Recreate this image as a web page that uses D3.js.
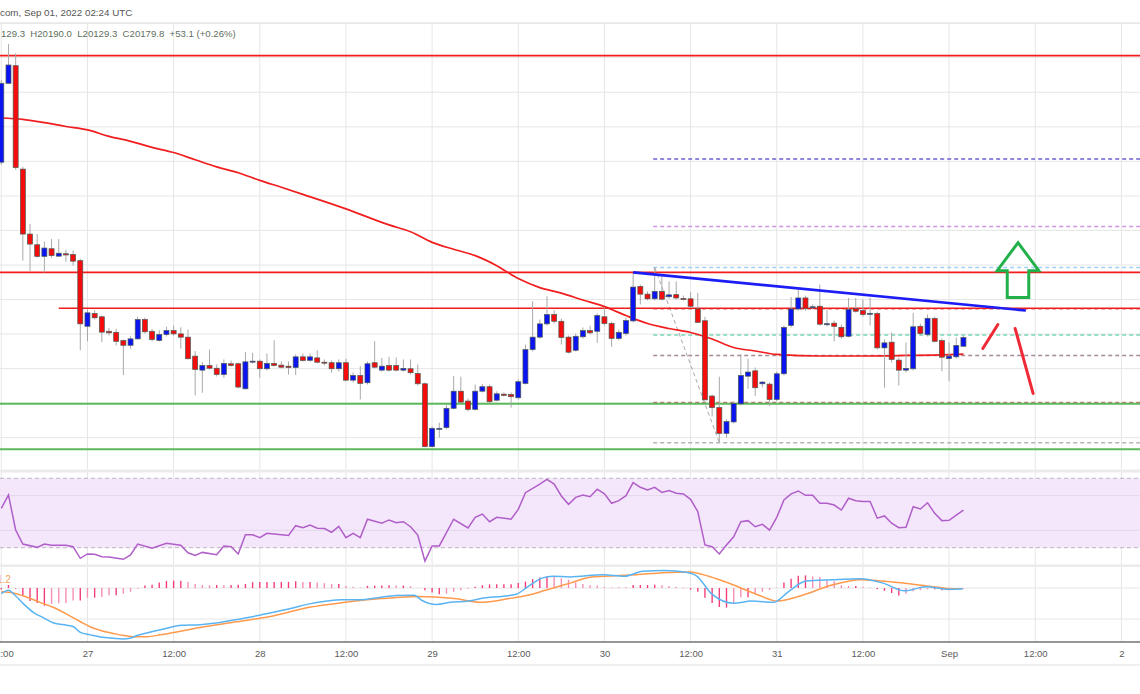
<!DOCTYPE html>
<html>
<head>
<meta charset="utf-8">
<script src="https://cdn.jsdelivr.net/npm/d3@7"></script>
<style>
  body { margin: 0; background: #fff; }
  svg { display: block; font-family: "Liberation Sans", Arial, sans-serif; }
</style>
</head>
<body>
<svg id="chart" width="1140" height="694"></svg>
<script>
"use strict";

// hourly candles from Aug 26 12:00 UTC: [open, high, low, close]
const ohlc = [
  [21195,21671,21180,21652],[21652,21879,21650,21758],[21754,21825,21151,21164],[21155,21168,20625,20779],
  [20779,20837,20563,20721],[20717,20779,20642,20650],[20650,20736,20556,20698],[20694,20750,20642,20654],
  [20651,20750,20648,20668],[20665,20688,20619,20658],[20660,20683,20596,20622],[20625,20636,20106,20259],
  [20245,20342,20158,20323],[20319,20338,20284,20294],[20300,20307,20153,20211],[20216,20236,20191,20207],
  [20210,20230,20134,20158],[20162,20168,19962,20135],[20135,20187,20115,20172],[20172,20300,20168,20284],
  [20284,20295,20203,20213],[20216,20230,20157,20168],[20163,20222,20157,20197],[20197,20242,20186,20220],
  [20220,20249,20191,20201],[20201,20239,20115,20182],[20182,20226,20053,20057],[20072,20101,19845,19995],
  [19991,20037,19860,20018],[20018,20110,19995,20002],[20002,20024,19954,19966],[19966,20053,19947,20030],
  [20028,20047,20012,20018],[20028,20035,19885,19893],[19883,20095,19879,20039],[20039,20091,20030,20043],
  [20043,20053,19947,19999],[19999,20087,19989,20030],[20030,20164,20012,20018],[20020,20041,20001,20008],
  [20014,20041,19966,20006],[20006,20082,19962,20068],[20068,20087,20041,20047],[20048,20087,20041,20068],
  [20062,20106,20030,20037],[20037,20053,20018,20032],[20034,20047,19976,19999],[19999,20053,19983,20034],
  [20034,20057,19925,19933],[19933,19978,19920,19960],[19960,20014,19821,19914],[19918,20041,19908,20028],
  [20034,20159,20001,20008],[19991,20062,19983,20014],[20018,20068,19983,19991],[20018,20064,19983,19991],
  [19991,20053,19983,20001],[19999,20053,19966,19976],[19972,20024,19902,19912],[19912,19920,19544,19548],
  [19548,19665,19544,19654],[19649,19687,19600,19654],[19658,19793,19648,19770],[19770,19956,19764,19869],
  [19869,19953,19798,19806],[19812,19827,19752,19764],[19764,19908,19758,19869],[19869,19912,19862,19895],
  [19895,19908,19798,19808],[19817,19868,19810,19854],[19852,19862,19839,19845],[19850,19862,19774,19837],
  [19831,19937,19821,19924],[19914,20139,19908,20110],[20110,20390,20099,20182],[20182,20284,20174,20259],
  [20259,20419,20249,20313],[20313,20338,20261,20274],[20274,20290,20139,20180],[20182,20191,20087,20095],
  [20106,20203,20099,20187],[20184,20238,20174,20220],[20220,20249,20197,20207],[20216,20319,20149,20307],
  [20300,20353,20249,20261],[20261,20272,20126,20174],[20174,20226,20163,20210],[20203,20295,20191,20278],
  [20276,20554,20267,20472],[20476,20486,20371,20431],[20431,20446,20394,20404],[20404,20587,20394,20447],
  [20447,20538,20394,20402],[20416,20505,20405,20427],[20428,20505,20399,20409],[20406,20423,20394,20401],
  [20404,20442,20353,20361],[20346,20438,20267,20268],[20277,20300,19816,19819],[19841,19850,19723,19774],
  [19774,19953,19573,19625],[19625,19706,19600,19693],[19691,19810,19683,19797],[19796,20082,19787,19960],
  [19956,20057,19883,19980],[19987,20006,19841,19889],[19912,19926,19891,19922],[19910,19920,19783,19821],
  [19821,19983,19810,19970],[19970,20249,19960,20238],[20250,20414,20238,20345],[20345,20457,20336,20409],
  [20409,20423,20336,20349],[20353,20371,20342,20358],[20361,20486,20249,20257],[20254,20342,20244,20260],
  [20263,20278,20158,20245],[20239,20255,20174,20184],[20187,20409,20180,20342],[20347,20409,20324,20332],
  [20336,20399,20301,20313],[20315,20411,20249,20320],[20319,20330,20110,20120],[20120,20168,19889,20149],
  [20153,20209,20035,20053],[20049,20064,19902,19991],[19991,20151,19978,20001],[19999,20323,19989,20242],
  [20245,20261,20191,20203],[20197,20313,20186,20291],[20290,20301,20151,20158],[20162,20174,19985,20066],
  [20058,20151,19927,20072],[20068,20180,20058,20134],[20129.3,20190,20129.3,20179.8]
];

// moving average: [hour, price]
const ema = [
  [0,21451],[3,21443],[6,21424],[9,21402],[12,21382],[15,21345],[18,21316],[21,21281],[24,21251],
  [27,21209],[30,21168],[33,21134],[36,21090],[39,21050],[42,21009],[48,20925],[54,20832],[57,20792],
  [60,20731],[63,20691],[66,20654],[69,20596],[72,20521],[75,20469],[78,20437],[81,20397],[84,20359],
  [87,20307],[90,20261],[93,20232],[96,20209],[99,20171],[102,20122],[105,20102],[108,20082],
  [114,20073],[120,20073],[126,20076],[132,20081],[134,20084]
];

// RSI: [hour, value]
const rsi = [
  [0,52.7],[1,60.4],[2,40.2],[3,32.1],[5,30.2],[6,32.1],[7,31.4],[9,31.4],[10,30.6],[11,23.9],[12,26.4],
  [13,26.2],[14,24.8],[15,24.6],[17,23.3],[18,25.8],[19,32.1],[21,29.7],[23,32.5],[25,31.4],[26,27.1],
  [27,25.6],[28,27.3],[30,26],[31,31],[32,30.6],[33,26.4],[34,37.5],[35,37.5],[36,35.8],[37,38.3],
  [40,37.1],[41,42.7],[42,41.5],[43,43.1],[44,41.2],[45,41],[46,38.9],[47,42.3],[48,35.8],[49,38.3],
  [50,35.8],[51,46.4],[53,44.1],[54,46],[55,44.4],[56,45],[57,42.1],[58,37.3],[59,22.3],[60,31],[61,31],
  [63,46.4],[65,41.4],[66,47.5],[67,49.4],[68,45],[69,47.5],[71,46.4],[72,52.1],[73,61.7],[75,66.7],
  [76,69.4],[77,66.7],[78,59.8],[79,55],[80,59],[81,60.4],[82,59.4],[83,63.7],[84,61],[85,55.6],[86,57.1],
  [87,60],[88,67.5],[89,64.8],[90,63.3],[91,64.8],[92,61.9],[93,62.9],[94,61.4],[95,61],[96,57.9],
  [97,50.8],[98,31.6],[99,30.6],[100,26.4],[101,31.6],[102,36.3],[103,45],[104,45.6],[105,42.1],
  [106,43.5],[107,40.2],[108,47.5],[109,57.5],[110,61],[111,62.7],[112,60.2],[113,60.2],[114,55.6],
  [115,55.6],[116,54.6],[117,51.7],[118,58.5],[119,57.1],[120,56.7],[121,56.7],[122,47],[123,48.3],
  [124,44.1],[125,41.5],[126,41.8],[127,53.6],[128,52.3],[129,55.9],[130,49.8],[131,45.6],[132,45.8],
  [133,48.8],[134,51.6]
];

// MACD line and signal line: [hour, value]
const macdLine = [
  [0,-18],[1,-7],[1.9,-23],[3.1,-51],[4.5,-79],[5.9,-96],[7.2,-112],[9.1,-120],[10,-124],[11,-143],
  [12.4,-151],[13.8,-158],[15.6,-162],[17,-164],[17.9,-162],[18.9,-153],[20.1,-146],[22.6,-132],
  [25.1,-120],[27.7,-118],[30.2,-112],[32.2,-104],[34.8,-93],[37.3,-81],[40.3,-66],[42.9,-51],
  [45.4,-42],[47.4,-38],[50,-38],[52.5,-31],[55,-24],[57.5,-23],[58.6,-40],[60.6,-53],[62.6,-46],
  [65.1,-42],[67.2,-32],[69.7,-27],[71.7,-20],[73.3,4],[75.3,32],[76.8,38],[79.2,36],[83.8,43],
  [86.8,38],[89.3,54],[92.4,57],[95.4,51],[96.9,38],[98.9,-18],[102,-49],[104.5,-42],[107.6,-46],
  [109.6,-12],[112.1,23],[115.7,27],[119.7,30],[122.8,16],[125.8,-9],[128.8,4],[131.9,-4],[133.9,-2]
];
const signalLine = [
  [0,-12],[1.7,-16],[3.5,-29],[5.4,-46],[7.2,-62],[9.1,-84],[10.9,-107],[12.8,-129],[14.7,-142],
  [16.5,-151],[18.4,-157],[20.3,-157],[22.4,-150],[27.7,-127],[32.7,-109],[37.8,-90],[42.9,-62],
  [47.9,-46],[53,-34],[58.1,-27],[63.1,-34],[66.7,-46],[70.7,-34],[73.3,-23],[75.8,-7],[79.2,16],
  [82.2,36],[86.8,41],[91.9,49],[95.9,52],[98.5,38],[102,10],[105.5,-23],[108.1,-42],[111.6,-23],
  [115.7,10],[119.7,27],[124.8,18],[128.8,7],[131.9,-1],[133.9,-2]
];
// histogram, one value per candle
const macdHist = [
  -5,10,-4,-23,-42,-48,-57,-51,-49,-48,-40,-40,-31,-31,-29,-23,-23,-18,-12,-2,8,11,18,23,24,24,20,13,
  10,9,10,9,10,11,13,19,20,20,20,20,20,22,20,20,18,16,13,13,7,4,2,7,8,8,9,8,8,6,1,-7,-14,-20,-18,-12,
  -7,-2,4,9,12,12,12,12,16,21,29,34,38,36,32,27,18,13,9,8,4,2,2,2,10,10,10,11,9,7,4,2,-5,-12,-31,-48,
  -61,-63,-48,-30,-30,-17,-12,-6,1,18,30,40,41,38,36,24,22,9,7,7,4,2,-4,-9,-16,-24,-18,-10,-7,-4,-4,
  -7,-7,-4,-2
];

// drawn levels
const resistance = [[0, 21812], [0, 20557], [8, 20349]];   // [start hour, price]
const support = [19796, 19533];
const fibAnchors = [[91, 20586], [100, 19571]];
const fibLevels = [21213, 20823, 20586, 20347, 20195, 20076, 19804, 19571];
const trendLine = [[88, 20557], [142.7, 20336]];
const redMarks = [[[136.7, 20116], [138.8, 20255]], [[141.2, 20232], [143.7, 19856]]];
const greenArrow = [[141.6, 20729], [144.5, 20567], [143.1, 20567], [143.1, 20411],
                    [140.1, 20411], [140.1, 20567], [138.7, 20567]];

const titleText = "com, Sep 01, 2022 02:24 UTC";
const ohlcText = "129.3  H20190.0  L20129.3  C20179.8  +53.1 (+0.26%)";
const macdLabel = "1.2";

const W = 1140;
const t0 = Date.UTC(2022, 7, 26, 12);
const timeOf = h => new Date(t0 + h * 3600e3);

const x = d3.scaleUtc().domain([timeOf(0), timeOf(156)]).range([1.3, 1121.4]);
const xh = h => x(timeOf(h));
const yP = d3.scaleLinear().domain([19400, 22000]).range([472.2, 23.2]);
const yR = d3.scaleLinear().domain([30, 70]).range([547.7, 478.3]);
const yM = d3.scaleLinear().domain([-174, 68]).range([642, 567]);

const svg = d3.select("#chart");

svg.append("defs").call(d => {
  d.append("clipPath").attr("id", "clipP").append("rect").attr("x", 0).attr("y", 23).attr("width", W).attr("height", 447);
  d.append("clipPath").attr("id", "clipR").append("rect").attr("x", 0).attr("y", 473).attr("width", W).attr("height", 92);
  d.append("clipPath").attr("id", "clipM").append("rect").attr("x", 0).attr("y", 567).attr("width", W).attr("height", 75);
});

// ---- grid ----
const tickTimes = d3.utcHour.every(12).range(timeOf(0), timeOf(157));
const grid = svg.append("g").attr("stroke", "#e6e6e6").attr("stroke-width", 1);
grid.selectAll(".vg").data(tickTimes).join("line")
  .attr("x1", d => x(d)).attr("x2", d => x(d)).attr("y1", 23).attr("y2", 642);
grid.selectAll(".hg").data(d3.range(19600, 22001, 200)).join("line")
  .attr("x1", 0).attr("x2", W).attr("y1", d => yP(d)).attr("y2", d => yP(d));

// pane separators
svg.append("rect").attr("x", 0).attr("y", 469.5).attr("width", W).attr("height", 3).attr("fill", "#ebebeb");
svg.append("rect").attr("x", 0).attr("y", 564.5).attr("width", W).attr("height", 2.5).attr("fill", "#ebebeb");
svg.append("rect").attr("x", 0).attr("y", 664).attr("width", W).attr("height", 2).attr("fill", "#efefef");

// ---- price pane ----
const price = svg.append("g").attr("clip-path", "url(#clipP)");

// fib retracement
const fibColors = ["#6c63d0", "#cf95e4", "#9fd1f5", "#dd5555", "#79d6b6", "#a88a92", "#c87272", "#b5b5b5"];
price.selectAll(".fib").data(fibLevels).join("line")
  .attr("x1", xh(fibAnchors[0][0]) - 1.5).attr("x2", W)
  .attr("y1", d => yP(d)).attr("y2", d => yP(d))
  .attr("stroke", (d, i) => fibColors[i]).attr("stroke-width", 1.5).attr("stroke-dasharray", "4,3");
price.append("line")
  .attr("x1", xh(fibAnchors[0][0])).attr("y1", yP(fibAnchors[0][1]))
  .attr("x2", xh(fibAnchors[1][0])).attr("y2", yP(fibAnchors[1][1]))
  .attr("stroke", "#a8a8a8").attr("stroke-width", 1).attr("stroke-dasharray", "4,3");

// horizontal levels
price.selectAll(".res").data(resistance).join("line")
  .attr("x1", d => d[0] ? xh(d[0]) : 0).attr("x2", W)
  .attr("y1", d => yP(d[1])).attr("y2", d => yP(d[1]))
  .attr("stroke", "#f21c1c").attr("stroke-width", 1.6);
price.selectAll(".sup").data(support).join("line")
  .attr("x1", 0).attr("x2", W).attr("y1", d => yP(d)).attr("y2", d => yP(d))
  .attr("stroke", "#5cb85c").attr("stroke-width", 2);

// moving average
price.append("path").datum(ema)
  .attr("fill", "none").attr("stroke", "#f01e1e").attr("stroke-width", 1.7)
  .attr("d", d3.line().x(d => xh(d[0])).y(d => yP(d[1])).curve(d3.curveMonotoneX));

// candles
const bw = 5;
const candles = price.selectAll(".c").data(ohlc).join("g");
candles.append("line")
  .attr("x1", (d, i) => xh(i)).attr("x2", (d, i) => xh(i))
  .attr("y1", d => yP(d[1])).attr("y2", d => yP(d[2]))
  .attr("stroke", "#a9a9a9").attr("stroke-width", 1);
candles.append("rect")
  .attr("x", (d, i) => xh(i) - bw / 2).attr("width", bw)
  .attr("y", d => yP(Math.max(d[0], d[3])))
  .attr("height", d => Math.max(1, Math.abs(yP(d[0]) - yP(d[3]))))
  .attr("fill", d => d[3] >= d[0] ? "#0a14f0" : "#f50c0c")
  .attr("stroke", "#4d5a55").attr("stroke-width", 0.7);

// trend line and hand-drawn marks
price.append("line")
  .attr("x1", xh(trendLine[0][0])).attr("y1", yP(trendLine[0][1]))
  .attr("x2", xh(trendLine[1][0])).attr("y2", yP(trendLine[1][1]))
  .attr("stroke", "#1c1cf5").attr("stroke-width", 2.6);
price.selectAll(".mark").data(redMarks).join("line")
  .attr("x1", d => xh(d[0][0])).attr("y1", d => yP(d[0][1]))
  .attr("x2", d => xh(d[1][0])).attr("y2", d => yP(d[1][1]))
  .attr("stroke", "#ee2a36").attr("stroke-width", 3).attr("stroke-linecap", "round");
price.append("polygon")
  .attr("points", greenArrow.map(p => [xh(p[0]), yP(p[1])].join(",")).join(" "))
  .attr("fill", "none").attr("stroke", "#22b04b").attr("stroke-width", 3);

// header texts
svg.append("line").attr("x1", 0).attr("x2", W).attr("y1", 23).attr("y2", 23).attr("stroke", "#e2e2e2");
svg.append("text").attr("x", 0).attr("y", 16).attr("font-size", 9.8).attr("fill", "#555")
  .text(titleText);
svg.append("text").attr("x", 1).attr("y", 37).attr("font-size", 9.6).attr("fill", "#5f6f60")
  .style("white-space", "pre").text(ohlcText);

// ---- RSI pane ----
const rsiG = svg.append("g").attr("clip-path", "url(#clipR)");
rsiG.append("rect").attr("x", 0).attr("width", W)
  .attr("y", yR(70)).attr("height", yR(30) - yR(70)).attr("fill", "#f4e7fc");
rsiG.selectAll(".rg").data([60, 40]).join("line")
  .attr("x1", 0).attr("x2", W).attr("y1", d => yR(d)).attr("y2", d => yR(d))
  .attr("stroke", "#e3d7ec");
rsiG.selectAll(".rb").data([70, 30]).join("line")
  .attr("x1", 0).attr("x2", W).attr("y1", d => yR(d)).attr("y2", d => yR(d))
  .attr("stroke", "#bdb6c2").attr("stroke-dasharray", "4,3");
rsiG.append("path").datum(rsi)
  .attr("fill", "none").attr("stroke", "#b05ec8").attr("stroke-width", 1.5)
  .attr("d", d3.line().x(d => xh(d[0])).y(d => yR(d[1])));

// ---- MACD pane ----
const macdG = svg.append("g").attr("clip-path", "url(#clipM)");
macdG.selectAll(".mg").data([0, -100]).join("line")
  .attr("x1", 0).attr("x2", W).attr("y1", d => yM(d)).attr("y2", d => yM(d))
  .attr("stroke", "#e6e6e6");
macdG.selectAll(".hb").data(macdHist).join("line")
  .attr("x1", (d, i) => xh(i)).attr("x2", (d, i) => xh(i))
  .attr("y1", yM(0)).attr("y2", d => yM(d))
  .attr("stroke", (d, i) => i > 0 && Math.abs(d) < Math.abs(macdHist[i - 1]) ? "#f78fb3" : "#f23f7c")
  .attr("stroke-width", 1.4);
const mline = d3.line().x(d => xh(d[0])).y(d => yM(d[1])).curve(d3.curveMonotoneX);
macdG.append("path").datum(signalLine)
  .attr("fill", "none").attr("stroke", "#ff9a4d").attr("stroke-width", 1.5).attr("d", mline);
macdG.append("path").datum(macdLine)
  .attr("fill", "none").attr("stroke", "#5ab4f2").attr("stroke-width", 1.5).attr("d", mline);
svg.append("text").attr("x", -3).attr("y", 583).attr("font-size", 10).attr("fill", "#f7a15a")
  .text(macdLabel);

// ---- time axis ----
const fmtTick = d => d.getUTCHours() === 12 ? "12:00"
  : d.getUTCDate() === 1 ? d3.utcFormat("%b")(d) : String(d.getUTCDate());
const axis = svg.append("g").attr("transform", "translate(0,642)")
  .call(d3.axisBottom(x).tickValues(tickTimes).tickSize(0).tickPadding(8).tickFormat(fmtTick));
axis.select(".domain").remove();
axis.selectAll("text").attr("font-family", "Liberation Sans, Arial, sans-serif")
  .attr("font-size", 9.5).attr("fill", "#5a5a5a");
svg.append("rect").attr("x", 0).attr("y", 641.2).attr("width", W).attr("height", 1.6).attr("fill", "#7d7d7d");
</script>
</body>
</html>
